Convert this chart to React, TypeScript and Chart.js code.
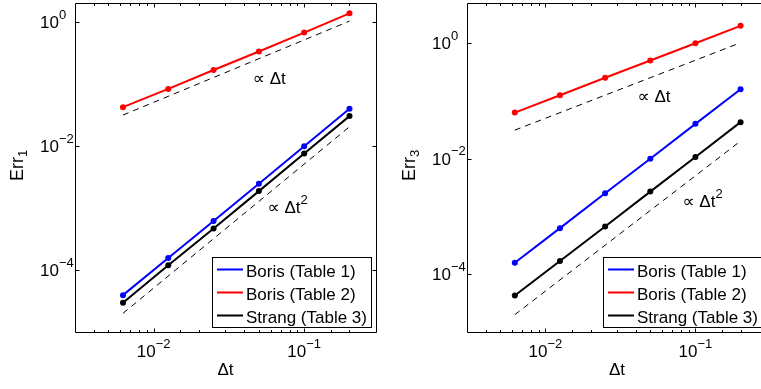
import React, { useEffect, useRef } from "react";
import { Chart, registerables } from "chart.js";

Chart.register(...registerables);

// ---- data ----
const dt = [0.00625, 0.0125, 0.025, 0.05, 0.1, 0.2];
const seriesLabels = ["Boris (Table 1)", "Boris (Table 2)", "Strang (Table 3)"];

const err1BorisT1 = [3.93e-5, 1.56e-4, 6.18e-4, 2.46e-3, 9.88e-3, 0.0397];
const err1BorisT2 = [0.0422, 0.0831, 0.168, 0.334, 0.674, 1.377];
const err1StrangT3 = [2.96e-5, 1.19e-4, 4.66e-4, 1.87e-3, 7.53e-3, 0.0303];

const err3BorisT1 = [1.59e-4, 6.31e-4, 2.54e-3, 0.01006, 0.0405, 0.1606];
const err3BorisT2 = [0.0635, 0.1265, 0.255, 0.508, 1.01, 2.02];
const err3StrangT3 = [4.28e-5, 1.7e-4, 6.74e-4, 2.71e-3, 0.01075, 0.0433];

const refDt = [0.00625, 0.2];
const refLinear = [0.0315, 1.03];
const refQuad = [2.0e-5, 0.0204];

const yTickExps = [0, -2, -4];
const xTickExps = [-2, -1];

// ---- styling ----
const FONT = '"Liberation Sans", Arial, Helvetica, "DejaVu Sans", sans-serif';
const COLORS = ["#0000ff", "#ff0000", "#000000"];

type Note = { x: number; y: number; text: string; sup?: string };
type Panel = {
  series: number[][];
  yMax: number;
  ySub: string;
  yWidth: number;
  padTop: number;
  padRight: number;
  width: number;
  notes: Note[];
};

function drawSupText(
  ctx: CanvasRenderingContext2D,
  base: string,
  sup: string,
  x: number,
  y: number,
  baseSize: number,
  supSize: number,
  supRise: number
) {
  ctx.font = `${baseSize}px ${FONT}`;
  ctx.textAlign = "left";
  ctx.textBaseline = "middle";
  ctx.fillText(base, x, y);
  const w = ctx.measureText(base).width;
  ctx.font = `${supSize}px ${FONT}`;
  ctx.fillText(sup, x + w, y - supRise);
}

function makePlugin(p: Panel) {
  return {
    id: "matlabLook",
    afterDraw(chart: any) {
      const ctx: CanvasRenderingContext2D = chart.ctx;
      const a = chart.chartArea;
      const xs = chart.scales.x;
      const ys = chart.scales.y;
      ctx.save();
      ctx.strokeStyle = "#000";
      ctx.fillStyle = "#000";
      ctx.lineWidth = 1;
      const L = Math.round(a.left) + 0.5;
      const R = Math.round(a.right) + 0.5;
      const T = Math.round(a.top) + 0.5;
      const B = Math.round(a.bottom) + 0.5;
      ctx.beginPath();
      ctx.rect(L, T, R - L, B - T);
      ctx.stroke();

      // x ticks (major + minor) from the log scale's ticks
      ctx.beginPath();
      for (const t of xs.ticks) {
        const v = t.value;
        if (v <= xs.min || v >= xs.max) continue;
        const lg = Math.log10(v);
        const major = Math.abs(lg - Math.round(lg)) < 1e-6;
        const len = major ? 4 : 2.5;
        const px = Math.round(xs.getPixelForValue(v)) + 0.5;
        ctx.moveTo(px, B);
        ctx.lineTo(px, B - len);
        ctx.moveTo(px, T);
        ctx.lineTo(px, T + len);
      }
      // y ticks at labeled decades
      for (const e of yTickExps) {
        const py = Math.round(ys.getPixelForValue(Math.pow(10, e))) + 0.5;
        ctx.moveTo(L, py);
        ctx.lineTo(L + 4, py);
        ctx.moveTo(R, py);
        ctx.lineTo(R - 4, py);
      }
      ctx.stroke();

      // y tick labels
      for (const e of yTickExps) {
        const py = ys.getPixelForValue(Math.pow(10, e));
        ctx.font = `17px ${FONT}`;
        const w10 = ctx.measureText("10").width;
        const sup = e === 0 ? "0" : "\u2212" + Math.abs(e);
        drawSupText(ctx, "10", sup, a.left - 16 - w10, py + 1, 17, 13, 8);
      }
      // x tick labels
      for (const e of xTickExps) {
        const px = xs.getPixelForValue(Math.pow(10, e));
        ctx.font = `17px ${FONT}`;
        const w10 = ctx.measureText("10").width;
        const sup = "\u2212" + Math.abs(e);
        ctx.font = `13px ${FONT}`;
        const ws = ctx.measureText(sup).width;
        drawSupText(ctx, "10", sup, px - (w10 + ws) / 2, a.bottom + 20, 17, 13, 8);
      }

      // x title
      ctx.font = `17px ${FONT}`;
      ctx.textAlign = "center";
      ctx.textBaseline = "middle";
      ctx.fillText("\u0394t", (a.left + a.right) / 2, a.bottom + 38);

      // y title (rotated)
      ctx.save();
      ctx.translate(a.left - 57, (a.top + a.bottom) / 2 - 2);
      ctx.rotate(-Math.PI / 2);
      ctx.font = `18px ${FONT}`;
      const wE = ctx.measureText("Err").width;
      ctx.font = `13px ${FONT}`;
      const wS = ctx.measureText(p.ySub).width;
      const x0 = -(wE + wS) / 2;
      ctx.textAlign = "left";
      ctx.textBaseline = "middle";
      ctx.font = `18px ${FONT}`;
      ctx.fillText("Err", x0, 0);
      ctx.font = `13px ${FONT}`;
      ctx.fillText(p.ySub, x0 + wE, 5);
      ctx.restore();

      // slope notes
      for (const n of p.notes) {
        const px = xs.getPixelForValue(n.x);
        const py = ys.getPixelForValue(n.y);
        if (n.sup) drawSupText(ctx, n.text, n.sup, px, py, 17, 13, 8);
        else {
          ctx.font = `17px ${FONT}`;
          ctx.textAlign = "left";
          ctx.textBaseline = "middle";
          ctx.fillText(n.text, px, py);
        }
      }

      // legend
      const items = chart.data.datasets.filter((d: any) => d.label);
      const lw = 159;
      const lh = 70;
      const lx = Math.round(a.right - 5 - lw);
      const ly = Math.round(a.bottom - 5 - lh);
      ctx.fillStyle = "#fff";
      ctx.fillRect(lx, ly, lw, lh);
      ctx.strokeStyle = "#000";
      ctx.lineWidth = 1;
      ctx.strokeRect(lx + 0.5, ly + 0.5, lw, lh);
      items.forEach((d: any, i: number) => {
        const cy = ly + 12.5 + i * 23;
        ctx.beginPath();
        ctx.strokeStyle = d.borderColor;
        ctx.lineWidth = 2;
        ctx.moveTo(lx + 5, cy);
        ctx.lineTo(lx + 31, cy);
        ctx.stroke();
        ctx.fillStyle = "#000";
        ctx.font = `17px ${FONT}`;
        ctx.textAlign = "left";
        ctx.textBaseline = "alphabetic";
        ctx.fillText(d.label, lx + 34, cy + 7.5);
      });
      ctx.restore();
    },
  };
}

function buildConfig(p: Panel): any {
  const datasets: any[] = p.series.map((vals, i) => ({
    label: seriesLabels[i],
    data: dt.map((x, j) => ({ x, y: vals[j] })),
    borderColor: COLORS[i],
    backgroundColor: COLORS[i],
    pointBackgroundColor: COLORS[i],
    borderWidth: 2,
    pointRadius: 3,
    pointBorderWidth: 0,
    pointHoverRadius: 3,
    tension: 0,
  }));
  [refLinear, refQuad].forEach((vals) =>
    datasets.push({
      label: "",
      data: refDt.map((x, j) => ({ x, y: vals[j] })),
      borderColor: "#000",
      borderWidth: 1,
      borderDash: [6, 5],
      pointRadius: 0,
      tension: 0,
    })
  );
  return {
    type: "line",
    data: { datasets },
    options: {
      animation: false,
      responsive: false,
      events: [],
      layout: { padding: { top: p.padTop, right: p.padRight, left: 0, bottom: 0 } },
      plugins: { legend: { display: false }, tooltip: { enabled: false } },
      scales: {
        x: {
          type: "logarithmic",
          min: 0.003,
          max: 0.3,
          grid: { display: false },
          border: { display: false },
          ticks: { display: false, autoSkip: false },
          afterFit: (s: any) => {
            s.height = 57;
          },
        },
        y: {
          type: "logarithmic",
          min: 1e-5,
          max: p.yMax,
          grid: { display: false },
          border: { display: false },
          ticks: { display: false, autoSkip: false },
          afterFit: (s: any) => {
            s.width = p.yWidth;
          },
        },
      },
    },
    plugins: [makePlugin(p)],
  };
}

const leftPanel: Panel = {
  series: [err1BorisT1, err1BorisT2, err1StrangT3],
  yMax: 2.02,
  ySub: "1",
  yWidth: 75,
  padTop: 2,
  padRight: 4,
  width: 380,
  notes: [
    { x: 0.0456, y: 0.117, text: "\u221D \u0394t" },
    { x: 0.0571, y: 1.0e-3, text: "\u221D \u0394t", sup: "2" },
  ],
};

const rightPanel: Panel = {
  series: [err3BorisT1, err3BorisT2, err3StrangT3],
  yMax: 5.03,
  ySub: "3",
  yWidth: 87,
  padTop: 3,
  padRight: 2,
  width: 390,
  notes: [
    { x: 0.0411, y: 0.118, text: "\u221D \u0394t" },
    { x: 0.082, y: 1.75e-3, text: "\u221D \u0394t", sup: "2" },
  ],
};

function PanelChart({ panel, left }: { panel: Panel; left: number }) {
  const ref = useRef<HTMLCanvasElement | null>(null);
  useEffect(() => {
    if (!ref.current) return;
    const chart = new Chart(ref.current, buildConfig(panel));
    return () => chart.destroy();
  }, [panel]);
  return (
    <canvas
      ref={ref}
      width={panel.width}
      height={389}
      style={{ position: "absolute", left, top: 0, width: panel.width, height: 389, display: "block" }}
    />
  );
}

export default function App() {
  return (
    <div
      style={{
        position: "fixed",
        left: 0,
        top: 0,
        width: 761,
        height: 389,
        overflow: "hidden",
        background: "#fff",
      }}
    >
      <PanelChart panel={leftPanel} left={0} />
      <PanelChart panel={rightPanel} left={380} />
    </div>
  );
}
